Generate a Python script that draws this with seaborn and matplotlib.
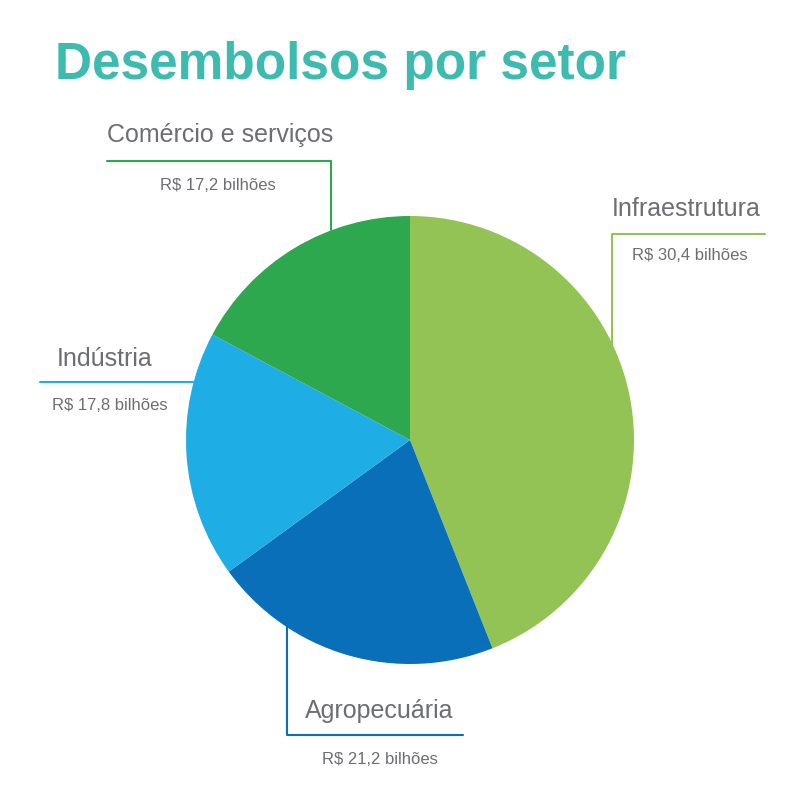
import matplotlib
matplotlib.use("Agg")
import matplotlib.pyplot as plt
import seaborn as sns
from matplotlib.lines import Line2D

sns.set_theme(style="white")
plt.rcParams['font.family'] = ['Liberation Sans Narrow', 'Liberation Sans', 'DejaVu Sans']

sectors = ["Infraestrutura", "Agropecuária", "Indústria", "Comércio e serviços"]
value_labels = ["R$ 30,4 bilhões", "R$ 21,2 bilhões", "R$ 17,8 bilhões", "R$ 17,2 bilhões"]
shares = [44.0, 21.0, 17.8, 17.2]  # slice shares
colors = ["#93c355", "#086fb8", "#1fade5", "#2ea84f"]

W = H = 810
fig = plt.figure(figsize=(8.1, 8.1), dpi=100)
fig.patch.set_facecolor("white")

cx, cy, r = 410, 440, 224
ax = fig.add_axes([(cx - r) / W, (H - cy - r) / H, 2 * r / W, 2 * r / H])
ax.pie(shares, colors=colors, startangle=90, counterclock=False,
       wedgeprops=dict(linewidth=0), radius=1)
ax.set_xlim(-1, 1)
ax.set_ylim(-1, 1)
ax.set_aspect("equal")
ax.axis("off")

def P(x, y):
    return x / W, 1 - y / H

fig.text(*P(55, 65), "Desembolsos por setor", color="#3dbbaf", fontsize=37,
         fontweight="bold", va="center", ha="left")

gray = "#6d6e71"
def line(pts, c):
    xs = [p[0] / W for p in pts]
    ys = [1 - p[1] / H for p in pts]
    fig.add_artist(Line2D(xs, ys, color=c, lw=1.5, transform=fig.transFigure))

# Comércio
line([(107, 161), (331, 161), (331, 230)], colors[3])
fig.text(*P(107, 135), sectors[3], color=gray, fontsize=18, va="center")
fig.text(*P(218, 185), value_labels[3], color=gray, fontsize=12, va="center", ha="center")
# Infra
line([(765, 234), (612, 234), (612, 345)], colors[0])
fig.text(*P(612, 209), sectors[0], color=gray, fontsize=18, va="center")
fig.text(*P(632, 256), value_labels[0], color=gray, fontsize=12, va="center")
# Indústria
line([(40, 382), (195, 382)], colors[2])
fig.text(*P(57, 359), sectors[2], color=gray, fontsize=18, va="center")
fig.text(*P(52, 405), value_labels[2], color=gray, fontsize=12, va="center")
# Agro
line([(287, 625), (287, 735), (463, 735)], colors[1])
fig.text(*P(305, 711), sectors[1], color=gray, fontsize=18, va="center")
fig.text(*P(322, 760), value_labels[1], color=gray, fontsize=12, va="center")

fig.savefig("out.png", dpi=100, facecolor="white")
